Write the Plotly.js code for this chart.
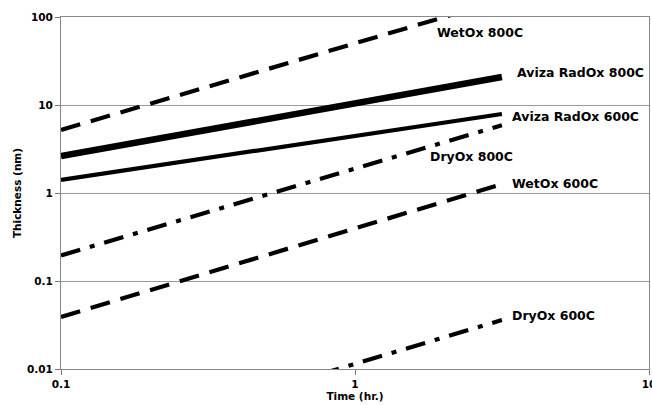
<!DOCTYPE html>
<html>
<head>
<meta charset="utf-8">
<script src="https://cdn.plot.ly/plotly-3.0.1.min.js"></script>
<style>html,body{margin:0;padding:0;background:#fff;}#chart{width:652px;height:405px;}</style>
</head>
<body>
<div id="chart"></div>
<script>
// Time (hr.)
const timeHr = [0.1, 3.16];
// Thickness (nm) per process
const wetOx800 = [5.2, 156];
const avizaRadOx800 = [2.63, 20.8];
const avizaRadOx600 = [1.41, 7.9];
const dryOx800 = [0.195, 5.9];
const wetOx600 = [0.039, 1.26];
const dryOx600 = [0.00115, 0.036];

const seriesNames = ["WetOx 800C", "Aviza RadOx 800C", "Aviza RadOx 600C", "DryOx 800C", "WetOx 600C", "DryOx 600C"];
const seriesValues = [wetOx800, avizaRadOx800, avizaRadOx600, dryOx800, wetOx600, dryOx600];

const yTickVals = [0.01, 0.1, 1, 10, 100];
const yTickText = ["0.01", "0.1", "1", "10", "100"];
const xTickVals = [0.1, 1, 10];
const xTickText = ["0.1", "1", "10"];

const dashLong = "20px,11px";
const dashDot = "20px,10px,5px,10px";
const styles = [
  {width: 4.2, dash: dashLong},
  {width: 6.5, dash: "solid"},
  {width: 4.2, dash: "solid"},
  {width: 4.2, dash: dashDot},
  {width: 4.2, dash: dashLong},
  {width: 4.2, dash: dashDot}
];

const traces = seriesValues.map((v, i) => ({
  x: timeHr, y: v, type: "scatter", mode: "lines", name: seriesNames[i],
  line: {color: "#000", width: styles[i].width, dash: styles[i].dash},
  hoverinfo: "skip"
}));

// label positions in pixels (left edge, vertical center)
const labelPx = [[435, 33], [515, 72], [510, 116], [428, 156], [510, 183], [510, 315]];
const L = 61, R = 649, T = 17, B = 369;
const annotations = seriesNames.map((n, i) => ({
  text: n, xref: "paper", yref: "paper",
  x: (labelPx[i][0] - L) / (R - L), y: (B - labelPx[i][1]) / (B - T),
  xanchor: "left", yanchor: "middle", showarrow: false,
  font: {family: "DejaVu Sans", size: 12.5, color: "#000", weight: "bold"}
}));

const tickFont = {family: "DejaVu Sans", size: 10.5, color: "#000", weight: "bold"};

const layout = {
  width: 652, height: 405,
  margin: {l: L, r: 652 - R, t: T, b: 405 - B},
  paper_bgcolor: "#fff", plot_bgcolor: "#fff",
  showlegend: false,
  font: {family: "DejaVu Sans"},
  xaxis: {
    type: "log", range: [-1, 1],
    tickvals: xTickVals, ticktext: xTickText,
    tickfont: tickFont, ticks: "outside", ticklen: 5, tickcolor: "#777",
    ticklabeloverflow: "allow",
    showgrid: false, zeroline: false,
    showline: true, linecolor: "#888", linewidth: 1, mirror: true,
    title: {text: "Time (hr.)", font: {family: "DejaVu Sans", size: 10.5, color: "#000", weight: "bold"}, standoff: 4},
    automargin: false
  },
  yaxis: {
    type: "log", range: [-2, 2],
    tickvals: yTickVals, ticktext: yTickText,
    tickfont: tickFont, ticks: "outside", ticklen: 5, tickcolor: "#777",
    showgrid: true, gridcolor: "#999", gridwidth: 1, zeroline: false,
    showline: true, linecolor: "#888", linewidth: 1, mirror: true,
    title: {text: "Thickness (nm)", font: {family: "DejaVu Sans", size: 10.5, color: "#000", weight: "bold"}, standoff: 3},
    automargin: false
  },
  annotations: annotations
};

Plotly.newPlot("chart", traces, layout, {staticPlot: true, displayModeBar: false});
</script>
</body>
</html>
